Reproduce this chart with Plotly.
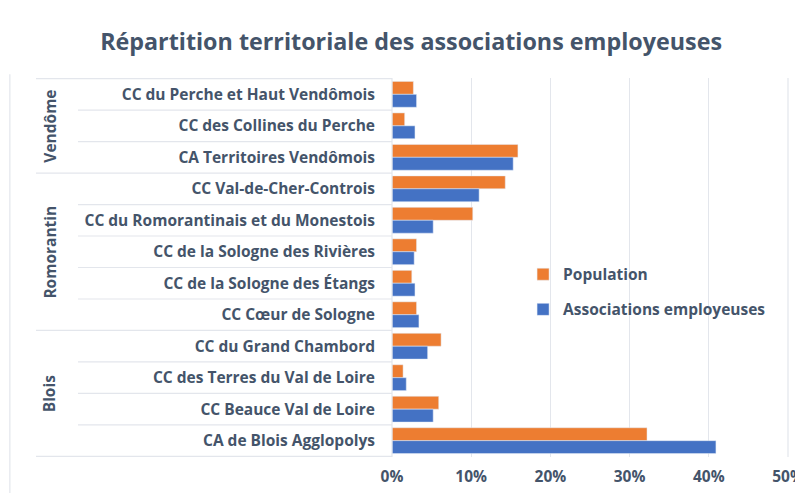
import plotly.graph_objects as go

# Territoires (de haut en bas) et groupes
territoires = [
    "CC du Perche et Haut Vendômois",
    "CC des Collines du Perche",
    "CA Territoires Vendômois",
    "CC Val-de-Cher-Controis",
    "CC du Romorantinais et du Monestois",
    "CC de la Sologne des Rivières",
    "CC de la Sologne des Étangs",
    "CC Cœur de Sologne",
    "CC du Grand Chambord",
    "CC des Terres du Val de Loire",
    "CC Beauce Val de Loire",
    "CA de Blois Agglopolys",
]
groupes = ["Vendôme", "Romorantin", "Blois"]
taille_groupes = [3, 5, 4]

# Parts (en fraction)
population = [0.027, 0.016, 0.159, 0.143, 0.102, 0.031, 0.025, 0.031, 0.062, 0.014, 0.059, 0.322]
associations = [0.031, 0.029, 0.153, 0.110, 0.052, 0.028, 0.029, 0.034, 0.045, 0.018, 0.052, 0.409]
ticks_x = [0, 0.1, 0.2, 0.3, 0.4, 0.5]
ticks_x_texte = ["0%", "10%", "20%", "30%", "40%", "50%"]

ORANGE = "#ED7D31"
BLEU = "#4472C4"
TEXTE = "#44546A"
GRILLE = "#E3E6EC"
POLICE = "Open Sans"
TAILLE = 15.5

fig = go.Figure()
fig.add_trace(go.Bar(y=territoires, x=population, orientation="h", name="Population",
                     legendgroup="pop", marker=dict(color=ORANGE)))
fig.add_trace(go.Bar(y=territoires, x=associations, orientation="h", name="Associations employeuses",
                     legendgroup="asso", marker=dict(color=BLEU)))

# Lignes de séparation dans la zone des libellés (à gauche)
X_GROUPE = -0.899
X_CAT = -0.793
formes = []
bornes_groupes = [0]
for t in taille_groupes:
    bornes_groupes.append(bornes_groupes[-1] + t)
for i in range(len(territoires) + 1):
    x0 = X_GROUPE if i in bornes_groupes else X_CAT
    formes.append(dict(type="line", xref="paper", yref="y", x0=x0, x1=0,
                       y0=i - 0.5, y1=i - 0.5, line=dict(color=GRILLE, width=1.2)))
formes.append(dict(type="line", xref="paper", yref="paper", x0=-0.965, x1=-0.965,
                   y0=-0.12, y1=1.01, line=dict(color=GRILLE, width=1.2)))
formes.append(dict(type="line", xref="paper", yref="paper", x0=0, x1=0,
                   y0=0, y1=1, line=dict(color=GRILLE, width=1.2)))
formes.append(dict(type="line", xref="paper", yref="paper", x0=1, x1=1,
                   y0=0, y1=1, line=dict(color=GRILLE, width=1.2)))

annotations = []
for g, a, b in zip(groupes, bornes_groupes[:-1], bornes_groupes[1:]):
    annotations.append(dict(text=g, xref="paper", yref="y", x=-0.864, y=(a + b - 1) / 2,
                            xanchor="center", yanchor="middle",
                            textangle=-90, showarrow=False,
                            font=dict(family=POLICE, size=TAILLE, color=TEXTE, weight="bold")))

fig.update_layout(
    width=795, height=485,
    title=dict(text="Répartition territoriale des associations employeuses",
               x=0.507, xanchor="center", y=0.93, yanchor="middle",
               font=dict(family=POLICE, size=23.3, color=TEXTE, weight="bold")),
    barmode="group", bargap=0.18, bargroupgap=0,
    margin=dict(l=384, r=15, t=70, b=36),
    plot_bgcolor="white", paper_bgcolor="white",
    font=dict(family=POLICE, size=TAILLE, color=TEXTE),
    xaxis=dict(range=[0, 0.5], tickmode="array", tickvals=ticks_x, ticktext=ticks_x_texte,
               showgrid=True, gridcolor=GRILLE, gridwidth=1.2, zeroline=False, showline=False,
               ticklabelstandoff=8, automargin=False, ticklabeloverflow="allow",
               tickfont=dict(size=TAILLE, color=TEXTE, weight="bold")),
    yaxis=dict(autorange="reversed", showgrid=False, showline=False, ticks="",
               ticklabelstandoff=16, automargin=False,
               tickfont=dict(size=TAILLE, color=TEXTE, weight="bold")),
    legend=dict(x=0.331, y=0.435, xanchor="left", yanchor="middle", bgcolor="rgba(0,0,0,0)",
                font=dict(size=TAILLE, color=TEXTE, weight="bold"), tracegroupgap=12,
                itemwidth=30),
    shapes=formes,
    annotations=annotations,
)

fig.write_html("out.html")
